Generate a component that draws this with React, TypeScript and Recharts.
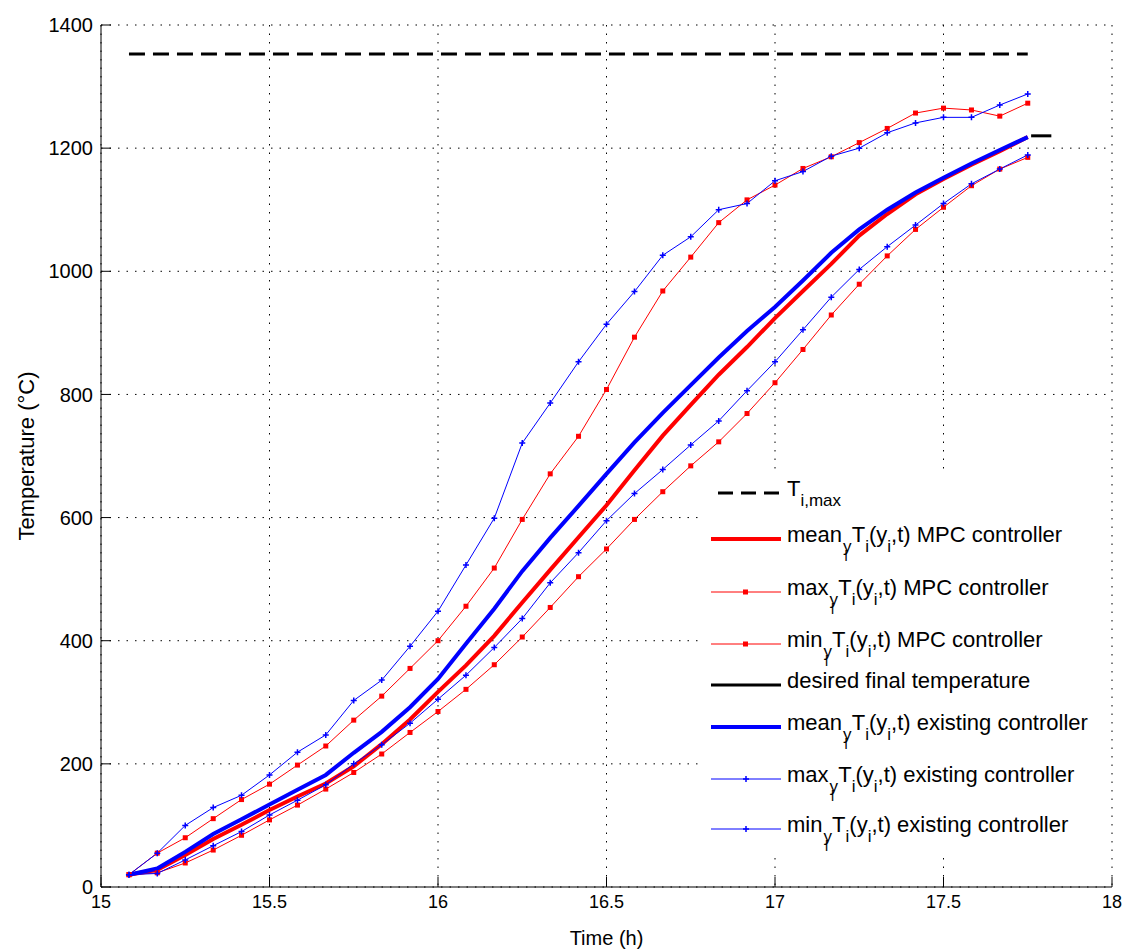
import { LineChart, Line, XAxis, YAxis, CartesianGrid, Legend } from 'recharts';

// sample times (h), one every 5 minutes
const times = [
  15.083, 15.167, 15.25, 15.333, 15.417, 15.5, 15.583, 15.667, 15.75, 15.833, 15.917,
  16.0, 16.083, 16.167, 16.25, 16.333, 16.417, 16.5, 16.583, 16.667, 16.75, 16.833,
  16.917, 17.0, 17.083, 17.167, 17.25, 17.333, 17.417, 17.5, 17.583, 17.667, 17.75,
];

const meanMpc = [
  20, 28, 52, 78, 101, 125, 147, 168, 196, 232, 272, 317, 360, 408, 462, 515, 568, 620,
  677, 733, 783, 832, 877, 924, 968, 1012, 1058, 1093, 1125, 1150, 1173, 1195, 1218,
];
const maxMpc = [
  20, 55, 80, 111, 142, 167, 198, 229, 271, 310, 355, 400, 456, 518, 597, 671, 732, 808,
  893, 968, 1023, 1079, 1116, 1140, 1167, 1186, 1209, 1232, 1257, 1265, 1262, 1252, 1273,
];
const minMpc = [
  20, 23, 39, 60, 84, 109, 133, 159, 186, 216, 251, 285, 321, 361, 406, 454, 504, 549,
  597, 642, 684, 723, 769, 819, 873, 929, 979, 1025, 1068, 1104, 1139, 1166, 1185,
];
const meanExisting = [
  20, 30, 57, 86, 110, 134, 158, 182, 218, 252, 292, 338, 395, 452, 513, 567, 619, 671,
  722, 770, 815, 860, 903, 942, 985, 1030, 1068, 1100, 1128, 1152, 1175, 1197, 1218,
];
const maxExisting = [
  20, 55, 100, 129, 149, 182, 219, 247, 303, 336, 391, 448, 523, 599, 721, 786, 853, 914,
  967, 1026, 1056, 1100, 1110, 1147, 1162, 1187, 1200, 1225, 1241, 1250, 1250, 1270, 1288,
];
const minExisting = [
  20, 22, 44, 67, 90, 117, 141, 166, 200, 231, 266, 305, 344, 389, 436, 494, 543, 595,
  639, 678, 718, 757, 806, 853, 905, 958, 1003, 1040, 1075, 1110, 1142, 1166, 1189,
];

const tiMaxTimes = [15.083, 17.75];
const tiMax = 1353;
const desiredTimes = [17.76, 17.82];
const desiredFinal = 1220;

const xTicks = [15, 15.5, 16, 16.5, 17, 17.5, 18];
const yTicks = [0, 200, 400, 600, 800, 1000, 1200, 1400];

const RED = '#ff0000';
const BLUE = '#0000ff';
const FONT = '"Liberation Sans", Arial, Helvetica, sans-serif';

const rows = times.map((t, i) => ({
  t,
  meanMpc: meanMpc[i],
  maxMpc: maxMpc[i],
  minMpc: minMpc[i],
  meanExisting: meanExisting[i],
  maxExisting: maxExisting[i],
  minExisting: minExisting[i],
}));
const tiMaxRows = tiMaxTimes.map(t => ({ t, v: tiMax }));
const desiredRows = desiredTimes.map(t => ({ t, v: desiredFinal }));

const squareDot = (p: any) => (
  <rect key={`sq-${p.index}`} x={p.cx - 2.5} y={p.cy - 2.5} width={5} height={5} fill={RED} />
);
const plusDot = (p: any) => (
  <path
    key={`pl-${p.index}`}
    d={`M${p.cx - 3},${p.cy}h6M${p.cx},${p.cy - 3}v6`}
    stroke={BLUE}
    strokeWidth={1.5}
    fill="none"
  />
);

// mean/max/min subscripted label: stat_{y_l} T_i(y_i,t) ...
function statLabel(prefix: string, suffix: string) {
  return (
    <>
      {prefix}
      <tspan dy={10} dx={1} fontSize={17}>y</tspan>
      <tspan dy={9} dx={-7} fontSize={14}>l</tspan>
      <tspan dy={-19} dx={4} fontSize={22}>T</tspan>
      <tspan dy={10} fontSize={17}>i</tspan>
      <tspan dy={-10} fontSize={22}>(y</tspan>
      <tspan dy={10} fontSize={17}>i</tspan>
      <tspan dy={-10} fontSize={22}>,t) {suffix}</tspan>
    </>
  );
}

const legendItems = [
  { y: 23, color: '#000', width: 3, dash: '15 8', marker: null, label: (
    <>T<tspan dy={10} fontSize={17}>i,max</tspan></>
  ) },
  { y: 69, color: RED, width: 4, dash: undefined, marker: null, label: statLabel('mean', 'MPC controller') },
  { y: 122, color: RED, width: 1, dash: undefined, marker: 'sq', label: statLabel('max', 'MPC controller') },
  { y: 174, color: RED, width: 1, dash: undefined, marker: 'sq', label: statLabel('min', 'MPC controller') },
  { y: 215, color: '#000', width: 3, dash: undefined, marker: null, label: <>desired final temperature</> },
  { y: 257, color: BLUE, width: 4, dash: undefined, marker: null, label: statLabel('mean', 'existing controller') },
  { y: 309, color: BLUE, width: 1, dash: undefined, marker: 'pl', label: statLabel('max', 'existing controller') },
  { y: 359, color: BLUE, width: 1, dash: undefined, marker: 'pl', label: statLabel('min', 'existing controller') },
];

function renderLegend() {
  return (
    <svg width={412} height={386} style={{ display: 'block' }}>
      <rect x={0} y={0} width={412} height={386} fill="#fff" />
      {legendItems.map((it, i) => (
        <g key={i}>
          <line
            x1={i === 0 ? 20 : 13}
            x2={83}
            y1={it.y}
            y2={it.y}
            stroke={it.color}
            strokeWidth={it.width}
            strokeDasharray={it.dash}
          />
          {it.marker === 'sq' && <rect x={45} y={it.y - 2.5} width={5} height={5} fill={RED} />}
          {it.marker === 'pl' && (
            <path d={`M45,${it.y}h6M48,${it.y - 3}v6`} stroke={BLUE} strokeWidth={1.5} />
          )}
          <text x={89} y={it.y + 3} fontFamily={FONT} fontSize={22} fill="#000">
            {it.label}
          </text>
        </g>
      ))}
    </svg>
  );
}

export default function App() {
  return (
    <div style={{ position: 'absolute', left: 0, top: 0, background: '#fff' }}>
      <LineChart
        width={1125}
        height={950}
        data={rows}
        margin={{ top: 25, right: 13, bottom: 0, left: 0 }}
      >
        <CartesianGrid stroke="#000" strokeDasharray="1.5 7" />
        <XAxis
          dataKey="t"
          type="number"
          domain={[15, 18]}
          ticks={xTicks}
          allowDataOverflow
          height={63}
          stroke="#000"
          tickSize={-10}
          tickMargin={18}
          tick={{ fill: '#000', fontSize: 18, fontFamily: FONT }}
          label={{ value: 'Time (h)', position: 'insideBottom', offset: 5, fill: '#000', fontSize: 20, fontFamily: FONT }}
        />
        <YAxis
          type="number"
          domain={[0, 1400]}
          ticks={yTicks}
          allowDataOverflow
          width={101}
          stroke="#000"
          tickSize={-10}
          tickMargin={18}
          tick={{ fill: '#000', fontSize: 20, fontFamily: FONT }}
          label={{
            content: (props: any) => {
              const vb = props.viewBox;
              const cx = 34;
              const cy = vb.y + vb.height / 2;
              return (
                <text
                  x={cx}
                  y={cy}
                  textAnchor="middle"
                  transform={`rotate(-90, ${cx}, ${cy})`}
                  fontFamily={FONT}
                  fontSize={22}
                  fill="#000"
                >
                  Temperature (°C)
                </text>
              );
            },
          }}
        />
        <Line data={tiMaxRows} dataKey="v" stroke="#000" strokeWidth={3} strokeDasharray="16 8" dot={false} isAnimationActive={false} />
        <Line dataKey="meanMpc" stroke={RED} strokeWidth={4} dot={false} isAnimationActive={false} />
        <Line dataKey="maxMpc" stroke={RED} strokeWidth={1} dot={squareDot} isAnimationActive={false} />
        <Line dataKey="minMpc" stroke={RED} strokeWidth={1} dot={squareDot} isAnimationActive={false} />
        <Line data={desiredRows} dataKey="v" stroke="#000" strokeWidth={3} dot={false} isAnimationActive={false} />
        <Line dataKey="meanExisting" stroke={BLUE} strokeWidth={4} dot={false} isAnimationActive={false} />
        <Line dataKey="maxExisting" stroke={BLUE} strokeWidth={1} dot={plusDot} isAnimationActive={false} />
        <Line dataKey="minExisting" stroke={BLUE} strokeWidth={1} dot={plusDot} isAnimationActive={false} />
        <Legend
          layout="vertical"
          align="center"
          verticalAlign="middle"
          content={renderLegend}
          wrapperStyle={{ position: 'absolute', left: 698, top: 470, width: 412, height: 386 }}
        />
      </LineChart>
    </div>
  );
}
